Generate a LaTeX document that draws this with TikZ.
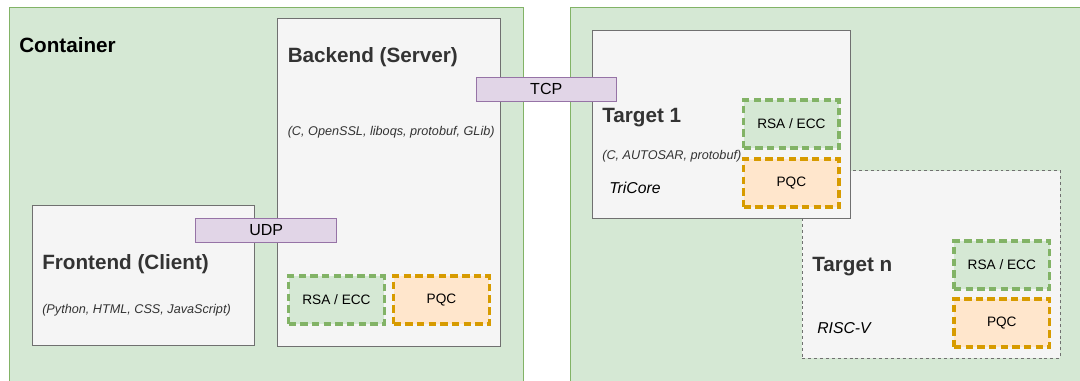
\documentclass[tikz,border=0pt]{standalone}
\usepackage{fontspec}
\setmainfont{Liberation Sans}

\definecolor{contfill}{HTML}{D5E8D4}
\definecolor{contline}{HTML}{82B366}
\definecolor{unitfill}{HTML}{F5F5F5}
\definecolor{unitline}{HTML}{707070}
\definecolor{protofill}{HTML}{E1D5E7}
\definecolor{protoline}{HTML}{9673A6}
\definecolor{pqcfill}{HTML}{FFE6CC}
\definecolor{pqcline}{HTML}{D79B00}
\definecolor{titletext}{HTML}{333333}

\begin{document}
\begin{tikzpicture}[x=0.025cm, y=-0.025cm,
		container/.style={draw=contline, fill=contfill, line width=0.7pt},
		unit/.style={draw=unitline, fill=unitfill, line width=0.7pt, minimum width=5.55cm, inner sep=0},
		proto/.style={draw=protoline, fill=protofill, line width=0.7pt, minimum width=3.51cm, minimum height=0.6cm, inner sep=0, font=\fontsize{11.4}{13}\selectfont},
		algo/.style={line width=2.4pt, dash pattern=on 5.3pt off 3pt, minimum width=2.39cm, minimum height=1.2cm, inner sep=0, font=\fontsize{9.7}{11}\selectfont},
		classic/.style={algo, draw=contline, fill=contfill},
		pqc/.style={algo, draw=pqcline, fill=pqcfill},
		title/.style={anchor=base west, inner sep=0, text=titletext, font=\fontsize{14.7}{17}\selectfont\bfseries},
		libs/.style={anchor=base west, inner sep=0, text=titletext, font=\fontsize{9}{11}\selectfont\itshape},
		arch/.style={anchor=base west, inner sep=0, font=\fontsize{11.2}{13}\selectfont\itshape}]
		%%%%% START %%%%%
		
		\useasboundingbox (0, 0) rectangle (1080, 381);
		\fill[white] (0, 0) rectangle (1080, 381);
		
		\begin{scope}
			\clip (0, 0) rectangle (1080, 381);
			\draw[container] (9.3, 7.5) rectangle (523, 395);
			\draw[container] (570, 7.5) rectangle (1095, 395);
		\end{scope}
		\node[title, text=black] (lblcont) at (19, 53) {Container};
		
		% host side
		\node[unit, minimum height=8.175cm] (backend) at (389, 182.5) {};
		\node[title] (lblback) at (287.5, 63) {Backend (Server)};
		\node[libs] (libback) at (287.5, 136) {(C, OpenSSL, liboqs, protobuf, GLib)};
		
		\node[unit, minimum height=3.475cm] (frontend) at (143.75, 275.5) {};
		\node[title] (lblfront) at (42, 269) {Frontend (Client)};
		\node[libs] (libfront) at (42, 313.5) {(Python, HTML, CSS, JavaScript)};
		
		\node[classic] (rsaback) at (336.45, 300) {RSA / ECC};
		\node[pqc] (pqcback) at (441.45, 300) {PQC};
		
		\node[proto] (udp) at (266.2, 230) {UDP};
		
		% targets
		\node[unit, minimum width=6.45cm, minimum height=4.675cm, dash pattern=on 2.1pt off 2.1pt] (targetn) at (931.35, 264.5) {};
		\node[title] (lbltn) at (812, 271) {Target n};
		\node[arch] (archtn) at (817, 333.5) {RISC-V};
		\node[classic] (rsatn) at (1001.8, 265) {RSA / ECC};
		\node[pqc] (pqctn) at (1001.8, 323) {PQC};
		
		\node[unit, minimum width=6.46cm, minimum height=4.675cm] (targetone) at (721.5, 124.5) {};
		\node[title] (lbltone) at (602, 123) {Target 1};
		\node[libs] (libtone) at (602, 159.5) {(C, AUTOSAR, protobuf)};
		\node[arch] (archtone) at (609, 193.5) {TriCore};
		\node[classic] (rsatone) at (791.35, 124) {RSA / ECC};
		\node[pqc] (pqctone) at (791.35, 183) {PQC};
		
		\node[proto] (tcp) at (546.25, 89) {TCP};
		
		%%%%% END %%%%%
\end{tikzpicture}
\end{document}
